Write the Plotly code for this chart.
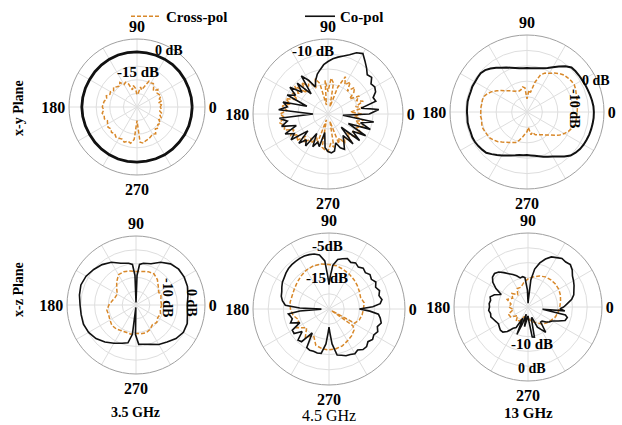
import plotly.graph_objects as go

W, H = 622, 425
SERIF = "Liberation Serif, Times New Roman, serif"
ORANGE = "#d8882a"
BLACK = "#111111"

# ---------------------------------------------------------------- data (dB)
ang5 = list(range(0, 361, 5))
ang10 = list(range(0, 361, 10))

# x-y plane, 3.5 GHz
xy35_co = [0.6, 0.5, 0.4, 0.5, 0.6, 0.7, 0.6, 0.5, 0.4, 0.5,
           0.6, 0.7, 0.6, 0.5, 0.4, 0.3, 0.4, 0.5, 0.6, 0.5,
           0.4, 0.3, 0.4, 0.5, 0.6, 0.7, 0.6, 0.5, 0.4, 0.5,
           0.6, 0.5, 0.4, 0.5, 0.6, 0.5, 0.6]
xy35_cross = [-23, -22, -24, -21, -22.5, -20.5, -21.5, -22, -20, -23,
              -21, -19, -19.5, -19, -24, -27, -25, -30, -31, -26,
              -24, -27, -22, -20, -21, -18, -20, -19, -17.5, -19,
              -17.5, -18, -16, -17, -15.5, -15, -14.5, -15.5, -14, -15,
              -14.5, -16, -15, -14, -15, -13.5, -14.5, -13, -13.5, -14,
              -12.5, -14, -13, -16, -30, -14, -13, -14.5, -15, -16,
              -17, -16, -19, -18, -20, -19, -21.5, -20, -22, -21,
              -23, -22, -23]

# x-y plane, 4.5 GHz
xy45_co = [-22.5, -16, -27.5, -17, -18, -15, -14, -15, -12, -13,
           -10, -7, -3.5, -5, -8, -10, -11.5, -13, -15, -17,
           -20, -22.5, -26, -30, -24, -19, -32.5, -21, -27.5, -19,
           -25, -20, -35, -19, -22.5, -17, -40, -17.5, -22.5, -18,
           -27.5, -18.5, -24, -20, -32.5, -22.5, -27.5, -24, -35, -26,
           -30, -27.5, -37.5, -27.5, -25, -24, -25, -30, -26, -24,
           -29, -32.5, -24, -37.5, -22.5, -30, -21, -35, -20, -27.5,
           -19, -40, -22.5]
xy45_cross = [-27.5, -35, -26, -31, -25, -29, -26, -32.5, -27.5, -25,
              -30, -24, -27.5, -22.5, -31, -45, -29, -26, -35, -27.5,
              -44, -29, -25, -31, -24, -27.5, -22.5, -30, -21, -26,
              -22.5, -27.5, -20, -24, -19, -22.5, -18, -21, -17, -20,
              -19, -25, -21, -26, -22.5, -29, -25, -30, -27.5, -32.5,
              -29, -46, -27.5, -26, -25, -30, -27.5, -45, -29, -32.5,
              -27.5, -31, -26, -32.5, -25, -30, -24, -29, -25, -31,
              -26, -32.5, -27.5]

# x-y plane, 13 GHz
xy13_co = [0.4, 0.3, 0.0, -0.3, -0.6, -0.8, -1.0, -1.1, -1.2, -1.4,
           -2.8, -4.8, -6.5, -7.9, -8.8, -9.4, -9.8, -10.0, -10.0, -10.0,
           -9.8, -9.3, -8.6, -7.7, -6.8, -5.5, -4.2, -3.1, -2.5, -2.6,
           -2.7, -2.6, -2.8, -2.7, -2.6, -2.7, -2.7, -2.8, -2.6, -2.7,
           -2.8, -2.6, -2.7, -3.0, -3.4, -3.8, -5.0, -6.2, -7.2, -8.2,
           -9.0, -9.6, -10.1, -10.3, -10.4, -10.2, -9.8, -9.2, -8.4, -7.5,
           -6.6, -5.3, -3.6, -2.0, -1.2, -0.6, -0.3, -0.1, 0.1, 0.2,
           0.3, 0.4, 0.4]
xy13_cross = [-7.2, -7.0, -6.8, -6.5, -6.2, -5.6, -5.2, -5.4, -5.8, -6.2,
              -7.2, -8.4, -9.7, -10.5, -12.0, -16.0, -21.0, -20.0, -24.0, -19.0,
              -18.4, -19.5, -19.8, -19.5, -19.1, -18.3, -17.4, -16.3, -14.8, -13.2,
              -11.5, -10.2, -9.2, -9.0, -9.1, -8.9, -9.0, -8.8, -9.1, -8.7,
              -8.6, -8.9, -9.2, -9.4, -10.2, -11.0, -12.2, -13.2, -14.0, -14.7,
              -15.3, -16.8, -18.5, -20.0, -21.0, -23.0, -19.5, -20.5, -19.0, -18.6,
              -18.1, -17.4, -16.3, -15.3, -13.5, -11.8, -10.4, -9.2, -8.3, -7.6,
              -7.4, -7.3, -7.2]

# x-z plane, 3.5 GHz
xz35_co_ang = [0, 10, 20, 30, 40, 50, 60, 70, 80, 85, 88, 90, 92, 95,
               100, 110, 120, 130, 140, 150, 160, 170, 180, 190, 200, 210,
               220, 230, 240, 250, 258, 263, 266, 269, 274, 280, 290, 300,
               310, 320, 330, 340, 350, 360]
xz35_co = [-2.2, -1.6, -0.8, -0.4, -0.4, -1.2, -3.0, -5.2, -5.8, -6.5, -11, -22, -11, -6.5,
           -5.8, -5.0, -3.0, -1.6, -0.6, 0.4, 0.8, 0.3, -0.3, -0.4, -0.3, -0.8,
           -1.8, -3.4, -5.1, -6.5, -7.3, -11, -22, -11, -7.0, -6.8, -6.0, -4.5,
           -3.4, -1.8, -0.8, -0.9, -1.8, -2.2]
xz35_cross = [-12.6, -12.8, -12.2, -12.4, -11.2, -9.5, -8.4, -8.6, -9.2, -9.4,
              -9.0, -8.6, -8.8, -10.8, -12.8, -14.2, -14.0, -13.2, -12.0, -11.0,
              -11.2, -10.8, -10.2, -10.4, -11.0, -11.2, -11.0, -11.4, -11.2, -11.0,
              -11.6, -12.6, -12.0, -12.8, -12.4, -13.0, -12.6]

# x-z plane, 4.5 GHz
xz45_co_ang = [0, 3, 6, 10, 15, 20, 25, 30, 35, 40, 45, 50, 55, 60, 65, 70, 75, 80, 85,
               88, 90, 92, 95, 100, 105, 110, 115, 120, 125, 130, 135, 140, 145, 150,
               155, 160, 165, 170, 175, 178, 181, 184, 187, 190, 195, 200, 205, 210,
               215, 220, 225, 230, 235, 240, 245, 250, 255, 260, 265, 268, 270, 272,
               275, 280, 285, 290, 295, 300, 305, 310, 315, 320, 325, 330, 335, 340,
               345, 350, 354, 357, 360]
xz45_co = [-15.6, -11, -8.4, -7.6, -8.3, -7.6, -8.4, -7.5, -8.3, -7.7, -8.4, -7.8, -8.5,
           -7.8, -8.4, -7.6, -8.2, -8.8, -11, -15, -17.7, -15, -9.5, -7.2, -6.5, -6.2,
           -6.0, -6.0, -6.1, -6.2, -6.4, -6.8, -7.3, -7.6, -8.2, -8.8, -9.1, -9.8, -11,
           -16, -23.4, -16, -12, -12.5, -13, -12, -15, -11.5, -11.4, -14, -11.0, -11.4,
           -16, -10.8, -10.4, -10.6, -10.4, -10.6, -14, -18, -19.8, -18, -14, -10.0,
           -9.6, -9.0, -8.8, -8.3, -8.9, -7.9, -7.8, -8.6, -7.8, -8.3, -7.6, -8.4, -7.5,
           -8.2, -9.0, -12, -15.6]
xz45_cross_ang = [0, 10, 20, 30, 40, 50, 60, 70, 80, 90, 100, 110, 120, 130, 140, 150,
                  160, 170, 180, 190, 200, 210, 220, 230, 240, 250, 260, 270, 280, 290,
                  300, 310, 320, 325, 328, 331, 340, 350, 360]
xz45_cross = [-14.2, -13.8, -14.5, -14.0, -13.4, -12.8, -12.2, -11.6, -11.0, -10.8,
              -10.4, -10.3, -10.6, -11.2, -11.8, -12.3, -12.6, -12.5, -12.8, -13.5,
              -15, -13.2, -16, -13.4, -15.5, -12.8, -12.2, -12.0, -12.2, -12.6,
              -13.4, -14.0, -14.8, -16, -25, -16, -15.0, -14.5, -14.2]

# x-z plane, 13 GHz
xz13_co_ang = [0, 5, 10, 15, 20, 25, 30, 35, 40, 45, 50, 55, 60, 65, 70, 75, 80,
               84, 87, 89, 92, 96, 100, 105, 110, 115, 120, 125, 130, 135, 140, 145,
               150, 155, 160, 165, 170, 175, 180, 185, 190, 195, 200, 205, 210, 215,
               220, 225, 230, 235, 240, 245, 248, 252, 256, 260, 265, 270, 274, 278,
               282, 286, 290, 295, 300, 305, 310, 315, 320, 325, 330, 335, 340, 345,
               348, 351, 354, 357, 360]
xz13_co = [-10.5, -9, -7.0, -5.8, -5.2, -4.4, -3.7, -3.0, -1.6, -0.7, -1.2, -1.0, -1.9,
           -2.6, -4.3, -6.5, -9.4, -14, -22, -23.5, -18, -13, -12.5, -12.8, -11.5, -10.5,
           -9.4, -8.0, -6.5, -5.8, -6.2, -7.6, -10.0, -13.0, -10.5, -9.1, -9.6, -9.2, -9.4,
           -9.0, -9.6, -9.4, -10.2, -10.8, -11.2, -10.8, -10.4, -10.6, -12, -14.5, -15.4,
           -20, -13, -18, -22, -16.9, -20, -21.4, -19, -12.7, -12.5, -20, -20.5, -16,
           -14.5, -12.5, -17, -16.9, -15.5, -14.5, -13.6, -11.5, -9.0, -8.5, -9.5, -19,
           -10, -12, -10.5]
xz13_cross = [-12.1, -11.6, -11.0, -10.6, -10.5, -10.6, -10.9, -11.6, -12.6, -13.6,
              -15.0, -16.5, -16.3, -18.5, -16.5, -17.8, -16.0, -18.0, -17.2, -19.0,
              -16.5, -16.9, -19.5, -17.5, -18.7, -21, -19, -20.5, -19.5, -18.5,
              -17.5, -16.0, -15.0, -14.2, -13.2, -12.6, -12.1]

# ---------------------------------------------------------------- panels
panels = [
    # centre (px), radius (px), radial range (dB), traces, co-pol width
    dict(cx=137, cy=107, r=68, rng=[-40, 10], co=(ang10, xy35_co), cr=(ang5, xy35_cross), lw=2.8),
    dict(cx=328, cy=114, r=75, rng=[-50, 0], co=(ang5, xy45_co), cr=(ang5, xy45_cross), lw=1.6),
    dict(cx=527, cy=112, r=77, rng=[-30, 5], co=(ang5, xy13_co), cr=(ang5, xy13_cross), lw=2.0),
    dict(cx=136, cy=305, r=69, rng=[-23, 5], co=(xz35_co_ang, xz35_co), cr=(ang10, xz35_cross), lw=1.6),
    dict(cx=329, cy=309, r=76, rng=[-26, 0], co=(xz45_co_ang, xz45_co), cr=(xz45_cross_ang, xz45_cross), lw=1.6),
    dict(cx=528, cy=307, r=74, rng=[-25, 5], co=(xz13_co_ang, xz13_co), cr=(ang10, xz13_cross), lw=1.6),
]

spokes = list(range(0, 360, 30))
spoke_text = ["<b>%d</b>" % a if a % 90 == 0 else "" for a in spokes]

fig = go.Figure()
layout = {}
for i, p in enumerate(panels):
    key = "polar" if i == 0 else "polar%d" % (i + 1)
    lo, hi = p["rng"]
    rings = [lo + (hi - lo) * k / 5 for k in range(1, 5)]
    layout[key] = dict(
        domain=dict(x=[(p["cx"] - p["r"]) / W, (p["cx"] + p["r"]) / W],
                    y=[1 - (p["cy"] + p["r"]) / H, 1 - (p["cy"] - p["r"]) / H]),
        bgcolor="white",
        radialaxis=dict(range=p["rng"], tickvals=rings, showticklabels=False, ticks="",
                        showline=False, gridcolor="#dedede", gridwidth=1),
        angularaxis=dict(tickvals=spokes, ticktext=spoke_text, ticks="", rotation=0,
                         direction="counterclockwise", showline=True, linecolor="#a0a0a0",
                         linewidth=1, gridcolor="#dedede", gridwidth=1,
                         tickfont=dict(family=SERIF, size=16, color="black")),
    )
    fig.add_trace(go.Scatterpolar(
        theta=p["cr"][0], r=p["cr"][1], mode="lines", subplot=key,
        name="Cross-pol", showlegend=(i == 0),
        line=dict(color=ORANGE, width=1.5, dash="4px,2px")))
    fig.add_trace(go.Scatterpolar(
        theta=p["co"][0], r=p["co"][1], mode="lines", subplot=key,
        name="Co-pol", showlegend=(i == 1),
        line=dict(color=BLACK, width=p["lw"])))

labels = [
    ("0 dB", 169, 50, 0, 14, True),
    ("-15 dB", 138, 72, 0, 15, True),
    ("-10 dB", 313, 51, 0, 15, True),
    ("0 dB", 596, 81, 0, 14, True),
    ("-10 dB", 575, 108, 90, 14, True),
    ("0 dB", 192, 303, 90, 14, True),
    ("-10 dB", 168, 297, 90, 14, True),
    ("-5dB", 328, 246, 0, 15, True),
    ("-15 dB", 327, 278, 0, 15, True),
    ("-10 dB", 532, 344, 0, 15, True),
    ("0 dB", 532, 368, 0, 14, True),
    ("x-y Plane", 18, 108, -90, 14, True),
    ("x-z Plane", 18, 290, -90, 14, True),
    ("3.5 GHz", 135, 412, 0, 14, True),
    ("4.5 GHz", 329, 415, 0, 16, False),
    ("13 GHz", 528, 413, 0, 15, True),
]
annotations = [
    dict(text=t, x=x / W, y=1 - y / H, xref="paper", yref="paper", showarrow=False,
         textangle=a, xanchor="center", yanchor="middle",
         font=dict(family=SERIF, size=s, color="black", weight="bold" if b else "normal"))
    for t, x, y, a, s, b in labels
]

fig.update_layout(
    width=W, height=H,
    margin=dict(l=0, r=0, t=0, b=0),
    paper_bgcolor="white",
    plot_bgcolor="white",
    annotations=annotations,
    legend=dict(orientation="h", x=126 / W, y=1, xanchor="left", yanchor="top",
                entrywidth=129, entrywidthmode="pixels", traceorder="normal",
                font=dict(family=SERIF, size=15, color="black", weight="bold"),
                bgcolor="rgba(0,0,0,0)"),
    **layout,
)

fig.write_html("out.html")
